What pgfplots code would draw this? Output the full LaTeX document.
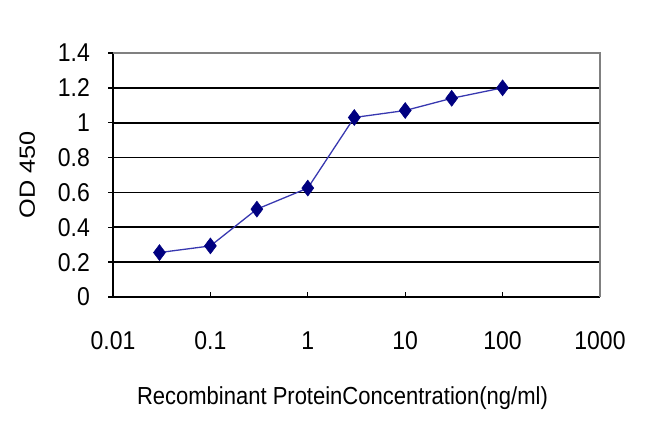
\documentclass[border=0pt]{standalone}
\usepackage{fontspec}
\setmainfont{Liberation Sans}
\usepackage{graphicx}
\usepackage{pgfplots}
\pgfplotsset{compat=1.18}

\definecolor{markblue}{HTML}{000080}
\definecolor{lineblue}{HTML}{3838B0}
% the reference text is a little stretched vertically
\newcommand\tall[1]{\scalebox{1}[1.12]{#1}}

\begin{document}
\begin{tikzpicture}[x=1pt,y=1pt]
\path[use as bounding box] (0,0) rectangle (650,433);
\begin{axis}[
    at={(113pt,136pt)}, anchor=south west,
    scale only axis,
    width=487pt, height=244pt,
    xmode=log,
    xmin=0.01, xmax=1000,
    ymin=0, ymax=1.4,
    xtick={0.01,0.1,1,10,100,1000},
    xticklabels={\tall{0.01},\tall{0.1},\tall{1},\tall{10},\tall{100},\tall{1000}},
    ytick={0,0.2,0.4,0.6,0.8,1,1.2,1.4},
    yticklabels={\tall{0},\tall{0.2},\tall{0.4},\tall{0.6},\tall{0.8},\tall{1},\tall{1.2},\tall{1.4}},
    minor x tick style={draw=none},
    axis x line*=bottom,
    axis y line*=left,
    axis line style={black, line width=1.8pt, -},
    x tick style={black, line width=1.3pt},
    y tick style={black, line width=1.3pt},
    xtick align=inside,
    ytick align=outside,
    major tick length=5pt,
    ymajorgrids,
    major grid style={black, line width=1.7pt},
    tick label style={font=\fontsize{23}{26}\selectfont},
    xticklabel style={anchor=base, inner sep=0pt, yshift=-53pt},
    yticklabel style={anchor=east, inner sep=0pt, xshift=-18pt},
    xlabel={\tall{Recombinant ProteinConcentration(ng/ml)}},
    ylabel={\scalebox{1.15}[1]{OD 450}},
    label style={font=\fontsize{22}{26}\selectfont},
    xlabel style={at={(axis description cs:0.5,0)}, anchor=base, yshift=-108pt, xshift=-14pt},
    ylabel style={at={([xshift=-78pt]axis description cs:0,0.5)}, anchor=base, rotate=0},
    clip=false,
    after end axis/.code={
        \draw[gray, line width=1.6pt] (rel axis cs:0,1) -- (rel axis cs:1,1) -- (rel axis cs:1,0);
    },
]
\addplot[lineblue, line width=1.3pt, mark=diamond*, mark size=8pt,
    mark options={markblue, fill=markblue, line width=0.5pt}]
    coordinates {
    (0.03,0.255) (0.1,0.293) (0.3,0.504) (1,0.625)
    (3,1.03) (10,1.07) (30,1.14) (100,1.20)
    };
\end{axis}
\end{tikzpicture}
\end{document}
